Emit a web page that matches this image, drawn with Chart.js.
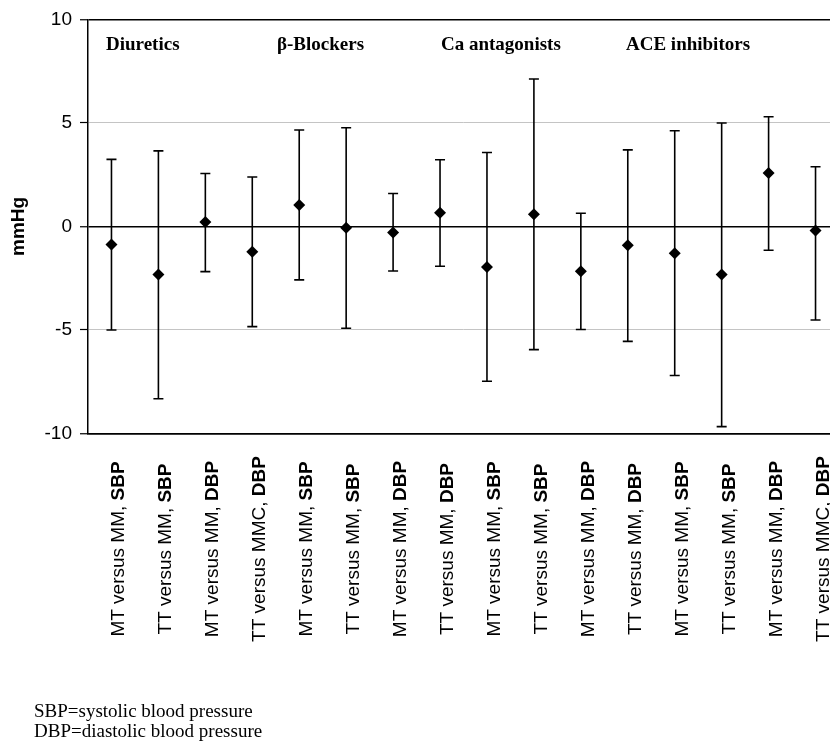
<!DOCTYPE html>
<html>
<head>
<meta charset="utf-8">
<script src="https://cdn.jsdelivr.net/npm/chart.js@4.4.1/dist/chart.umd.min.js"></script>
<style>
  html, body { margin: 0; padding: 0; background: #fff; overflow: hidden; width: 830px; height: 743px; }
  #wrap { position: relative; width: 830px; height: 743px; overflow: hidden; }
  canvas { position: absolute; left: 0; top: 0; }
  .grp { position: absolute; font-family: "Liberation Serif", "Times New Roman", serif; font-weight: bold; font-size: 19px; line-height: 19px; color: #000; white-space: nowrap; top: 34px; }
  .note { position: absolute; left: 34px; font-family: "Liberation Serif", "Times New Roman", serif; font-size: 19px; line-height: 19px; color: #000; white-space: nowrap; }
</style>
</head>
<body>
<div id="wrap">
  <canvas id="c" width="845" height="743"></canvas>
  <div class="grp" style="left:106px">Diuretics</div>
  <div class="grp" style="left:277px">β-Blockers</div>
  <div class="grp" style="left:441px">Ca antagonists</div>
  <div class="grp" style="left:626px">ACE inhibitors</div>
  <div class="note" style="top:701px">SBP=systolic blood pressure</div>
  <div class="note" style="top:721px">DBP=diastolic blood pressure</div>
</div>
<script>
// ---- data ----
const labelPrefix = [
  'MT versus MM, ', 'TT versus MM, ', 'MT versus MM, ', 'TT versus MMC, ',
  'MT versus MM, ', 'TT versus MM, ', 'MT versus MM, ', 'TT versus MM, ',
  'MT versus MM, ', 'TT versus MM, ', 'MT versus MM, ', 'TT versus MM, ',
  'MT versus MM, ', 'TT versus MM, ', 'MT versus MM, ', 'TT versus MMC, '
];
const labelSuffix = [
  'SBP', 'SBP', 'DBP', 'DBP',
  'SBP', 'SBP', 'DBP', 'DBP',
  'SBP', 'SBP', 'DBP', 'DBP',
  'SBP', 'SBP', 'DBP', 'DBP'
];
const categories = labelPrefix.map((p, i) => p + labelSuffix[i]);
const meanDiff = [-0.87, -2.32, 0.21, -1.22, 1.04, -0.06, -0.29, 0.66, -1.96, 0.59, -2.16, -0.91, -1.30, -2.32, 2.58, -0.19];
const upperCI  = [3.24, 3.65, 2.56, 2.39, 4.66, 4.77, 1.59, 3.22, 3.57, 7.12, 0.64, 3.70, 4.62, 5.00, 5.30, 2.88];
const lowerCI  = [-5.00, -8.32, -2.18, -4.84, -2.58, -4.92, -2.15, -1.92, -7.48, -5.95, -4.98, -5.55, -7.20, -9.67, -1.15, -4.52];
const yTicks = [-10, -5, 0, 5, 10];

const SANS = '"Liberation Sans", Arial, sans-serif';

const errorBars = {
  id: 'errorBars',
  beforeDatasetsDraw(chart) {
    const ctx = chart.ctx, xs = chart.scales.x, ys = chart.scales.y;
    ctx.save();
    ctx.strokeStyle = '#000';
    ctx.lineWidth = 1.6;
    for (let i = 0; i < meanDiff.length; i++) {
      const x = xs.getPixelForValue(i);
      const yHi = ys.getPixelForValue(upperCI[i]);
      const yLo = ys.getPixelForValue(lowerCI[i]);
      ctx.beginPath();
      ctx.moveTo(x, yHi); ctx.lineTo(x, yLo);
      ctx.moveTo(x - 5, yHi); ctx.lineTo(x + 5, yHi);
      ctx.moveTo(x - 5, yLo); ctx.lineTo(x + 5, yLo);
      ctx.stroke();
    }
    ctx.restore();
  }
};

const xLabels = {
  id: 'xLabels',
  afterDraw(chart) {
    const ctx = chart.ctx, xs = chart.scales.x;
    ctx.save();
    ctx.fillStyle = '#000';
    ctx.textBaseline = 'alphabetic';
    ctx.textAlign = 'left';
    const reg = '19px ' + SANS, bold = 'bold 19px ' + SANS;
    for (let i = 0; i < categories.length; i++) {
      const x = xs.getPixelForTick(i);
      ctx.font = reg; const w1 = ctx.measureText(labelPrefix[i]).width;
      ctx.font = bold; const w2 = ctx.measureText(labelSuffix[i]).width;
      const tot = w1 + w2;
      ctx.save();
      ctx.translate(x + 13, 549);
      ctx.rotate(-Math.PI / 2);
      ctx.font = reg; ctx.fillText(labelPrefix[i], -tot / 2, 0);
      ctx.font = bold; ctx.fillText(labelSuffix[i], -tot / 2 + w1, 0);
      ctx.restore();
    }
    ctx.restore();
  }
};

new Chart(document.getElementById('c'), {
  type: 'line',
  data: {
    labels: categories,
    datasets: [{
      data: meanDiff,
      showLine: false,
      pointStyle: 'rectRot',
      pointRadius: 6,
      pointBackgroundColor: '#000',
      pointBorderColor: '#000',
      pointBorderWidth: 0
    }]
  },
  options: {
    responsive: false,
    animation: false,
    devicePixelRatio: 1,
    layout: { padding: { top: 18, right: 5, bottom: 0, left: 0 } },
    plugins: { legend: { display: false }, tooltip: { enabled: false } },
    scales: {
      x: {
        type: 'category',
        offset: true,
        grid: { display: false, drawTicks: false },
        border: { display: true, color: '#000', width: 1.5 },
        ticks: { display: false },
        afterFit(s) { s.height = 743 - 433.5; }
      },
      y: {
        min: -10, max: 10,
        afterBuildTicks(s) { s.ticks = yTicks.map(v => ({ value: v })); },
        ticks: { color: '#000', font: { family: SANS, size: 19 }, padding: 8 },
        grid: {
          color: c => (c.tick && (c.tick.value === 0 || Math.abs(c.tick.value) === 10)) ? '#000' : '#c4c4c4',
          lineWidth: c => (c.tick && (c.tick.value === 0 || Math.abs(c.tick.value) === 10)) ? 1.5 : 1,
          tickColor: '#000',
          tickLength: 8,
          tickWidth: 1.2
        },
        border: { display: true, color: '#000', width: 1.5 },
        title: { display: true, text: 'mmHg', color: '#000', font: { family: SANS, size: 19, weight: 'bold' }, padding: { top: 7, bottom: 0 } },
        afterFit(s) { s.width = 88; }
      }
    }
  },
  plugins: [errorBars, xLabels]
});
</script>
</body>
</html>
